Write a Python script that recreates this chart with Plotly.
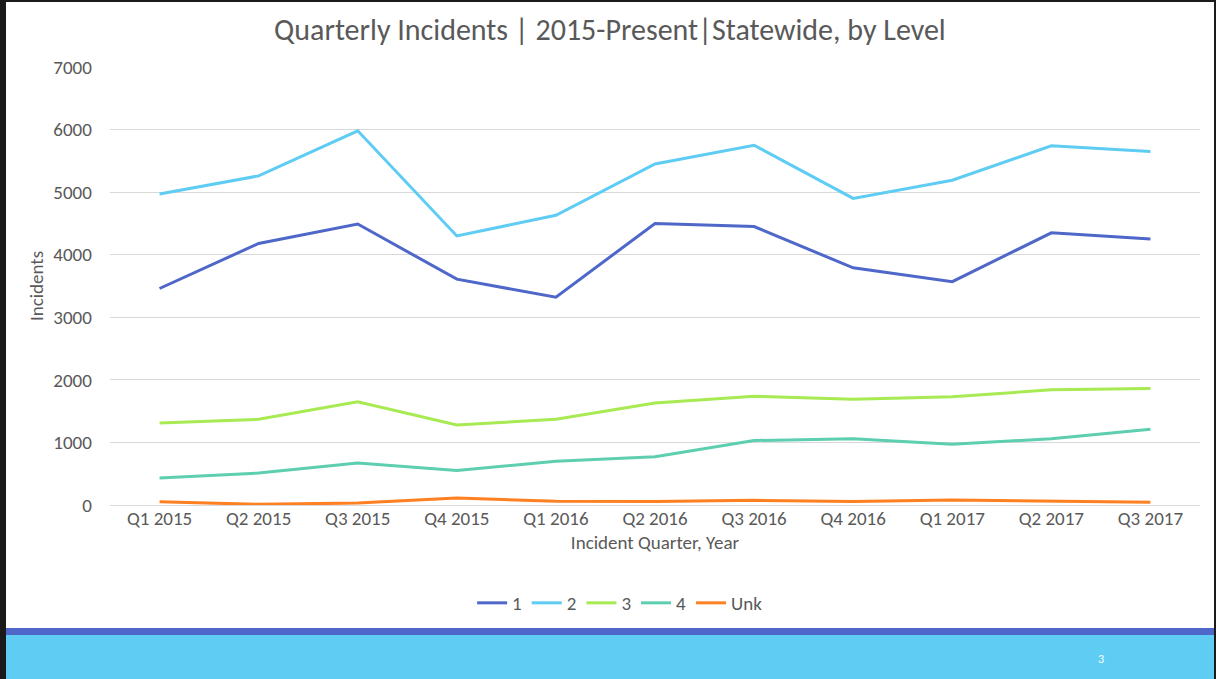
import plotly.graph_objects as go

# quarterly incident counts by level
quarters = ["Q1 2015", "Q2 2015", "Q3 2015", "Q4 2015", "Q1 2016", "Q2 2016",
            "Q3 2016", "Q4 2016", "Q1 2017", "Q2 2017", "Q3 2017"]
level_1 = [3460, 4180, 4490, 3610, 3320, 4500, 4450, 3790, 3570, 4350, 4250]
level_2 = [4970, 5260, 5980, 4300, 4630, 5450, 5750, 4900, 5190, 5740, 5650]
level_3 = [1310, 1370, 1650, 1280, 1370, 1630, 1740, 1690, 1730, 1840, 1860]
level_4 = [430, 510, 670, 550, 700, 770, 1030, 1060, 970, 1060, 1210]
level_unk = [50, 10, 30, 110, 60, 55, 75, 55, 80, 60, 45]

series = [("1", level_1, "#4E67C8"),
          ("2", level_2, "#5ECCF3"),
          ("3", level_3, "#A7EA52"),
          ("4", level_4, "#5DCEAF"),
          ("Unk", level_unk, "#FF8021")]

font_fam = "Calibri, Carlito, Lato, sans-serif"
grey = "#595959"

fig = go.Figure()
for name, vals, col in series:
    fig.add_trace(go.Scatter(x=quarters, y=vals, name=name, mode="lines",
                             line=dict(color=col, width=3)))

# plot area sits at x 110..1200, y 67..505 on the slide
fig.update_layout(
    width=1216, height=679,
    paper_bgcolor="white", plot_bgcolor="white",
    margin=dict(l=110, r=16, t=67, b=174),
    font=dict(family=font_fam, color=grey, size=19),
    title=dict(text="Quarterly Incidents | 2015-Present|Statewide, by Level",
               x=0.5016, xanchor="center", y=0.956, yanchor="middle",
               font=dict(size=30, color=grey)),
    legend=dict(orientation="h", x=0.468, xanchor="center", y=-0.2237, yanchor="middle",
                font=dict(size=19, color=grey), itemwidth=30, tracegroupgap=0),
    showlegend=True,
)
fig.update_xaxes(range=[-0.5, 10.5], showgrid=False, zeroline=False, showline=False,
                 ticks="", tickfont=dict(size=19, color=grey),
                 title=dict(text="Incident Quarter, Year", font=dict(size=19, color=grey), standoff=6))
fig.update_yaxes(range=[0, 7000], dtick=1000, showgrid=True, gridcolor="#D9D9D9", gridwidth=1,
                 zeroline=True, zerolinecolor="#D9D9D9", zerolinewidth=1, showline=False,
                 tickfont=dict(size=19, color=grey), ticksuffix="    ",
                 title=dict(text="Incidents", font=dict(size=19, color=grey), standoff=4))

# slide footer bars, page number and slide border (paper coords from slide pixels)
def px_x(px):
    return (px - 110) / 1090

def px_y(py):
    return (505 - py) / 438

fig.add_shape(type="rect", xref="paper", yref="paper", x0=px_x(-5), x1=px_x(1220),
              y0=px_y(635), y1=px_y(628), fillcolor="#4E67C8", line_width=0, layer="above")
fig.add_shape(type="rect", xref="paper", yref="paper", x0=px_x(-5), x1=px_x(1220),
              y0=px_y(685), y1=px_y(635), fillcolor="#5ECCF3", line_width=0, layer="above")
fig.add_annotation(text="3", xref="paper", yref="paper", x=px_x(1106), y=px_y(659),
                   yanchor="middle", showarrow=False,
                   font=dict(size=12, color="white"))
for x0, x1, y0, y1 in [(-5, 6, -5, 685), (1214, 1220, -5, 685), (-5, 1220, -5, 2)]:
    fig.add_shape(type="rect", xref="paper", yref="paper", x0=px_x(x0), x1=px_x(x1),
                  y0=px_y(y1), y1=px_y(y0), fillcolor="#1A1A1A", line_width=0, layer="above")

fig.write_html("out.html", config={"displayModeBar": False},
               post_script="document.body.style.margin='0';")
